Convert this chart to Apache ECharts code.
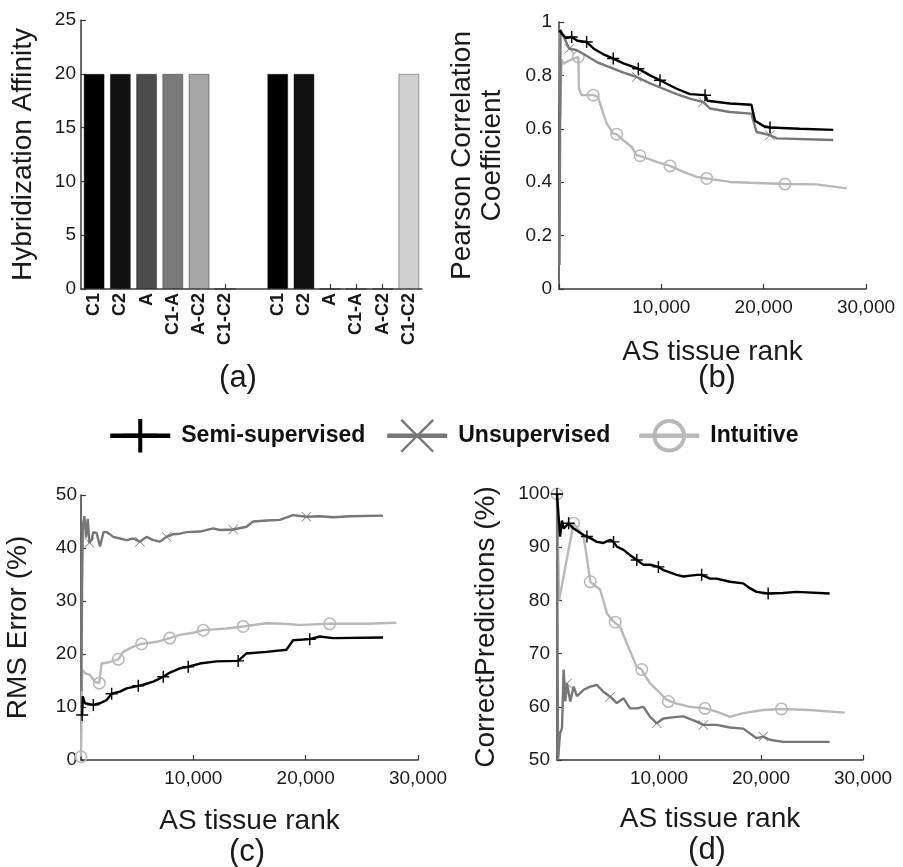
<!DOCTYPE html>
<html>
<head>
<meta charset="utf-8">
<script src="https://cdn.jsdelivr.net/npm/echarts@6/dist/echarts.min.js"></script>
<style>
html,body{margin:0;padding:0;background:#fff;}
#chart{width:903px;height:867px;}
</style>
</head>
<body>
<div id="chart"></div>
<script>
// ---------------- Panel (a) ----------------
const barCategories = ['C1','C2','A','C1-A','A-C2','C1-C2','','C1','C2','A','C1-A','A-C2','C1-C2'];
const barValues = [20,20,20,20,20,0,'-',20,20,0,0,0,20];
const affinityTicks = [0,5,10,15,20,25];

// ---------------- Panel (b) Pearson correlation ----------------
const b_semi_rank = [60,300,700,1240,1800,2700,3400,4300,5300,6300,7750,8900,9870,11500,12800,14270,14500,16700,18800,19150,20000,20620,23500,26800];
const b_semi_val  = [0.97,0.955,0.94,0.944,0.93,0.925,0.9,0.88,0.863,0.845,0.825,0.8,0.782,0.75,0.73,0.726,0.705,0.695,0.69,0.63,0.61,0.605,0.6,0.596];
const b_semi_marks = [3,5,8,10,12,15,21];

const b_uns_rank = [50,150,400,1000,1700,2400,3700,5000,6300,7600,8900,10200,11500,12800,14100,14750,16700,18800,19300,20600,21300,26800];
const b_uns_val  = [0.09,0.97,0.95,0.9,0.895,0.88,0.85,0.83,0.81,0.794,0.77,0.75,0.73,0.713,0.7,0.676,0.663,0.657,0.588,0.576,0.564,0.558];
const b_uns_marks = [3,9,14,19];

const b_int_rank = [40,120,250,420,1075,1889,1950,2215,3355,3800,4332,4657,5309,5635,6286,7100,7589,7915,8566,9543,10846,12149,13452,14429,16709,18663,22083,25177,28108];
const b_int_val  = [0.96,0.65,0.86,0.844,0.857,0.869,0.75,0.726,0.726,0.72,0.657,0.62,0.582,0.58,0.557,0.532,0.5,0.499,0.489,0.476,0.461,0.439,0.42,0.414,0.401,0.398,0.393,0.392,0.377];
const b_int_marks = [5,8,13,17,20,23,26];

// ---------------- Panel (c) RMS error ----------------
const c_semi_rank = [100,150,356,1097,1690,2282,2727,3468,4060,5098,5543,6432,7321,7914,8803,9544,10582,12063,13990,14731,16509,18288,18881,20363,21252,22437,26883];
const c_semi_val  = [8.5,12,10.7,10.4,10.7,11.3,12.5,12.9,13.5,14,14.2,14.8,15.7,16.5,17.3,17.6,18.2,18.6,18.7,20.1,20.4,20.8,22.6,22.8,23.3,23,23.1];
const c_semi_marks = [0,3,6,9,12,15,18,23];

const c_uns_rank = [30,90,160,300,450,600,750,948,1100,1393,1689,2000,2282,2875,3468,4060,4653,5246,5839,6432,7025,7618,8210,8803,9396,10582,11767,12360,13545,14731,15324,16509,17695,18881,20066,21252,22437,23919,26883];
const c_uns_val  = [13,31,44,46,42,45.5,41,41.5,43,42.8,40.3,43,43,42.1,41.8,41.5,41.8,41.2,42.1,41.5,41.2,42.1,42.6,42.7,43,43.1,43.7,43.4,43.5,44,45,45.2,45.3,46.2,45.9,46,45.8,46,46.1];
const c_uns_marks = [6,17,21,28,34];

const c_int_rank = [0,100,356,800,1245,1630,1838,2579,3320,3764,4653,5394,6728,7914,8803,9989,10878,12953,14435,16509,17991,19473,22141,25401,28069];
const c_int_val  = [0.6,17,16.4,16,14.8,14.5,18.2,18.5,19,20.4,21.4,21.9,22.3,23,23.6,24,24.5,24.8,25.2,25.8,25.7,25.5,25.7,25.7,25.9];
const c_int_marks = [0,5,8,11,13,16,18,22];

// ---------------- Panel (d) Correct predictions ----------------
const d_semi_rank = [0,300,489,652,1141,1630,2608,2934,3260,3912,4564,5216,5542,5868,6520,7172,7824,8476,9128,9943,10432,11736,12388,13692,14181,14996,15648,16952,18256,18908,19560,20701,22168,23472,26732];
const d_semi_val  = [100,92,95,93.5,94.5,93.5,92.3,92,91.7,91,90.8,91.4,91,90.1,89.5,88.5,87.6,86.7,86.7,86.3,85.7,84.8,84.5,84.8,84.8,84.1,84.1,83.5,83.2,82.3,81.6,81.3,81.4,81.6,81.3];
const d_semi_marks = [0,4,7,12,16,19,24,31];

const d_uns_rank = [0,100,300,489,652,815,978,1304,1630,1956,2608,3260,3912,4564,5216,5868,6520,7172,7824,8476,9128,9780,10432,11736,12388,13692,14344,15648,16952,18256,18908,19560,20212,20864,22168,26732];
const d_uns_val  = [100,50,55,56,67,61,64.4,61,63.8,62,63.2,63.8,64.1,62.8,61.9,60.7,61.6,59.7,59.7,60,58.1,56.9,57.8,58.1,58.2,57.2,56.6,56.6,56.1,55.9,55,54.1,54.4,53.8,53.4,53.4];
const d_uns_marks = [6,14,21,26,32];

const d_int_rank = [0,200,1630,2608,2934,3260,3586,4238,4890,5542,5705,6194,6846,7824,8313,8476,9128,9780,10758,10921,11736,13040,14507,15648,16952,18256,20212,22005,24776,28199];
const d_int_val  = [100,80,94.5,92,88,83.5,83,82,77.6,76,75.9,75,71.9,67.5,67,66.3,64.4,63.2,61.3,61,60.6,60,59.7,59.1,58.1,58.8,59.4,59.6,59.4,58.9];
const d_int_marks = [0,2,5,10,14,19,22,27];

const rankTicks = [0,10000,20000,30000];

// ---------------- Styling ----------------
const FONT = '"Liberation Sans", Arial, Helvetica, sans-serif';
const TXT = '#1a1a1a';
const AXC = '#3a3a3a';
const COLORS = {'Semi-supervised':'#000000','Unsupervised':'#777777','Intuitive':'#b8b8b8'};
const PLUS = 'path://M-1.2,-10H1.2V-1.2H10V1.2H1.2V10H-1.2V1.2H-10V-1.2H-1.2Z';
const CROSS = 'path://M-10,-9L-9,-10L10,9L9,10Z M9,-10L10,-9L-9,10L-10,9Z';
const RING = 'path://M0,-10A10,10 0 1,1 0,10A10,10 0 1,1 0,-10Z M0,-7.6A7.6,7.6 0 1,0 0,7.6A7.6,7.6 0 1,0 0,-7.6Z';
const SYMS = {'Semi-supervised':PLUS,'Unsupervised':CROSS,'Intuitive':RING};
const SIZES = {'Semi-supervised':12,'Unsupervised':10,'Intuitive':13};
const barColors = {'C1':'#000000','C2':'#111111','A':'#4b4b4b','C1-A':'#7a7a7a','A-C2':'#a6a6a6','C1-C2':'#d0d0d0'};

function pts(xs, ys, marks){
  return xs.map((x,i)=> marks.indexOf(i) >= 0 ? [x, ys[i]] : {value:[x, ys[i]], symbol:'none'});
}
function lineSeries(name, axis, xs, ys, marks, z){
  return {
    type:'line', name:name, xAxisIndex:axis, yAxisIndex:axis,
    data: pts(xs, ys, marks),
    symbol: SYMS[name], symbolSize: SIZES[name], showAllSymbol:true,
    lineStyle:{color:COLORS[name], width:2.4},
    itemStyle:{color:COLORS[name]},
    z:z, animation:false, silent:true
  };
}

const tickLabel = {fontFamily:FONT, fontSize:19, color:TXT};
const axisLine = {show:true, lineStyle:{color:AXC, width:1.5}};
const axisTick = {show:true, inside:true, length:5, lineStyle:{color:AXC, width:1.2}};
const nameStyle = {fontFamily:FONT, fontSize:28, color:TXT};

function rankAxis(grid, gap){
  return {
    type:'value', gridIndex:grid, min:rankTicks[0], max:rankTicks[rankTicks.length-1], interval:rankTicks[1]-rankTicks[0],
    axisLine:axisLine, axisTick:axisTick, splitLine:{show:false},
    axisLabel:Object.assign({margin:9, formatter:v=> v===0 ? '' : v.toLocaleString('en-US')}, tickLabel),
    name:'AS tissue rank', nameLocation:'middle', nameGap:gap, nameTextStyle:nameStyle
  };
}

const option = {
  backgroundColor:'#fff',
  animation:false,
  grid:[
    {left:81, top:20, width:341, height:269},
    {left:559, top:22, width:307, height:267},
    {left:81, top:495, width:337, height:265},
    {left:557, top:494, width:306, height:266}
  ],
  legend:[
    {data:['Semi-supervised'], left:103, top:414},
    {data:['Unsupervised'], left:380, top:414},
    {data:['Intuitive'], left:632, top:414}
  ].map(l => Object.assign(l, {
    itemWidth:60, itemHeight:42, selectedMode:false,
    lineStyle:{width:4.5},
    textStyle:{fontFamily:FONT, fontSize:23, fontWeight:'bold', color:'#111', padding:[0,0,0,6]}
  })),
  xAxis:[
    {
      type:'category', gridIndex:0, data:barCategories,
      axisLine:axisLine,
      axisTick:{show:true, inside:true, length:5, alignWithLabel:true, interval:(i)=> barCategories[i] !== '', lineStyle:{color:AXC, width:1.2}},
      axisLabel:{interval:0, rotate:90, margin:4, fontFamily:FONT, fontSize:18, fontWeight:'bold', color:TXT}
    },
    rankAxis(1, 49),
    rankAxis(2, 47),
    rankAxis(3, 45)
  ],
  yAxis:[
    {
      type:'value', gridIndex:0, min:affinityTicks[0], max:affinityTicks[affinityTicks.length-1], interval:affinityTicks[1]-affinityTicks[0],
      axisLine:axisLine, axisTick:axisTick, splitLine:{show:false},
      axisLabel:Object.assign({margin:5}, tickLabel),
      name:'Hybridization Affinity', nameLocation:'middle', nameGap:44, nameTextStyle:nameStyle
    },
    {
      type:'value', gridIndex:1, min:0, max:1, interval:0.2,
      axisLine:axisLine, axisTick:axisTick, splitLine:{show:false},
      axisLabel:Object.assign({margin:7}, tickLabel),
      name:'Pearson Correlation\nCoefficient', nameLocation:'middle', nameGap:52,
      nameTextStyle:Object.assign({lineHeight:30}, nameStyle)
    },
    {
      type:'value', gridIndex:2, min:0, max:50, interval:10,
      axisLine:axisLine, axisTick:axisTick, splitLine:{show:false},
      axisLabel:Object.assign({margin:4}, tickLabel),
      name:'RMS Error (%)', nameLocation:'middle', nameGap:49, nameTextStyle:nameStyle
    },
    {
      type:'value', gridIndex:3, min:50, max:100, interval:10,
      axisLine:axisLine, axisTick:axisTick, splitLine:{show:false},
      axisLabel:Object.assign({margin:7}, tickLabel),
      name:'CorrectPredictions (%)', nameLocation:'middle', nameGap:57, nameTextStyle:nameStyle
    }
  ],
  series:[
    {
      type:'bar', xAxisIndex:0, yAxisIndex:0, barWidth:'80%', silent:true,
      data: barValues.map((v,i)=>({value:v, itemStyle:{color:barColors[barCategories[i]] || '#000', borderColor:'rgba(0,0,0,0.35)', borderWidth:1}}))
    },
    lineSeries('Intuitive',1,b_int_rank,b_int_val,b_int_marks,2),
    lineSeries('Unsupervised',1,b_uns_rank,b_uns_val,b_uns_marks,3),
    lineSeries('Semi-supervised',1,b_semi_rank,b_semi_val,b_semi_marks,4),
    lineSeries('Intuitive',2,c_int_rank,c_int_val,c_int_marks,2),
    lineSeries('Unsupervised',2,c_uns_rank,c_uns_val,c_uns_marks,3),
    lineSeries('Semi-supervised',2,c_semi_rank,c_semi_val,c_semi_marks,4),
    lineSeries('Intuitive',3,d_int_rank,d_int_val,d_int_marks,2),
    lineSeries('Unsupervised',3,d_uns_rank,d_uns_val,d_uns_marks,3),
    lineSeries('Semi-supervised',3,d_semi_rank,d_semi_val,d_semi_marks,4)
  ],
  graphic:[
    {type:'text', x:238, y:378, style:{text:'(a)', font:'31px '+FONT, fill:TXT, textAlign:'center', textVerticalAlign:'middle'}},
    {type:'text', x:717, y:378, style:{text:'(b)', font:'31px '+FONT, fill:TXT, textAlign:'center', textVerticalAlign:'middle'}},
    {type:'text', x:247, y:852, style:{text:'(c)', font:'31px '+FONT, fill:TXT, textAlign:'center', textVerticalAlign:'middle'}},
    {type:'text', x:707, y:850, style:{text:'(d)', font:'31px '+FONT, fill:TXT, textAlign:'center', textVerticalAlign:'middle'}}
  ]
};

const chart = echarts.init(document.getElementById('chart'), null, {renderer:'canvas'});
chart.setOption(option);
</script>
</body>
</html>
